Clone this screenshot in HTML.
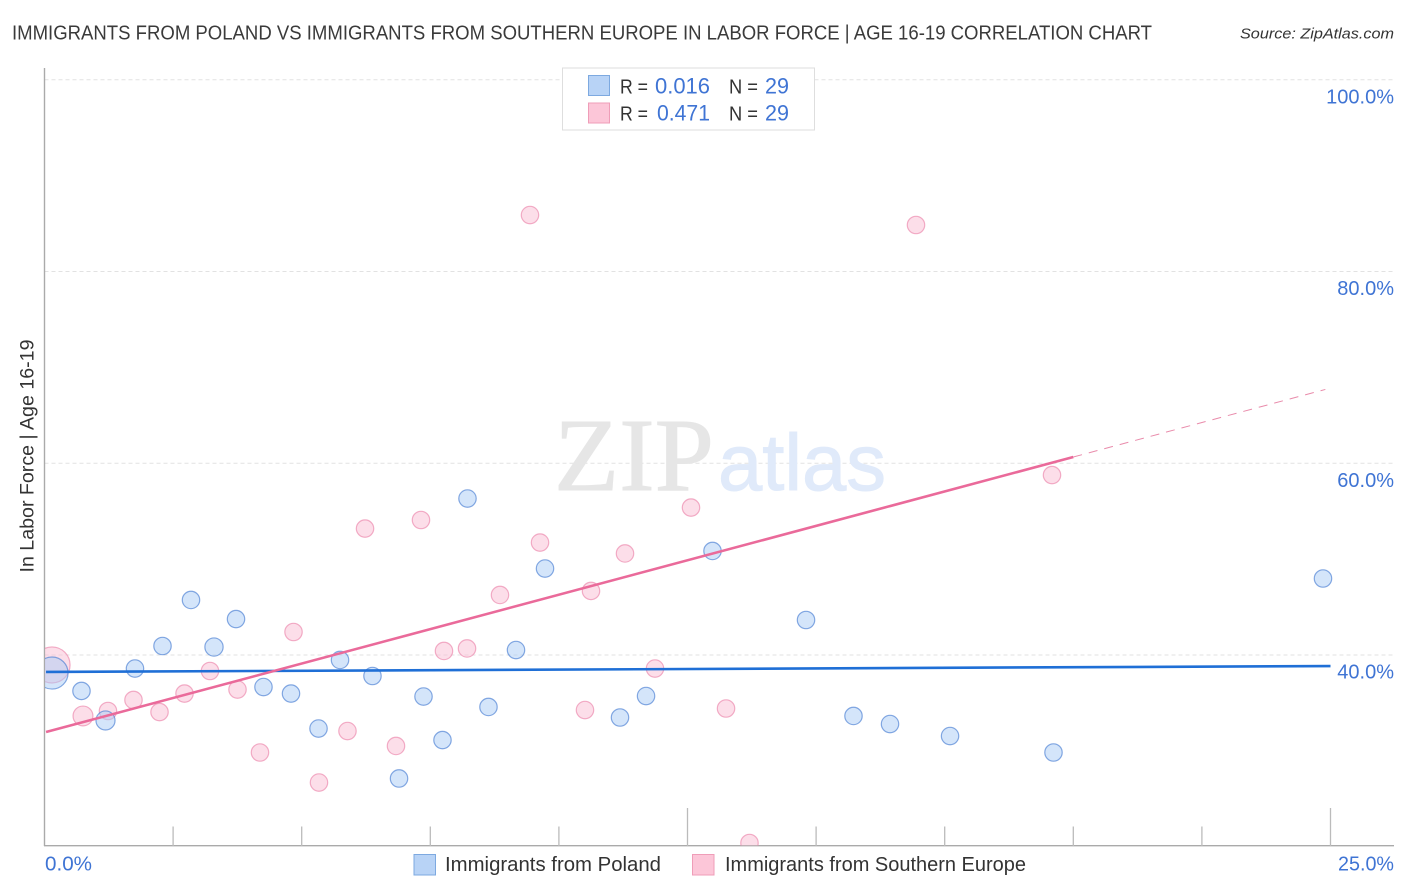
<!DOCTYPE html>
<html lang="en">
<head>
<meta charset="utf-8">
<title>Immigrants from Poland vs Immigrants from Southern Europe in Labor Force | Age 16-19 Correlation Chart</title>
<style>
html,body{margin:0;padding:0;background:#fff;width:1406px;height:892px;overflow:hidden}
svg{display:block;font-family:"Liberation Sans",sans-serif}
</style>
</head>
<body>
<svg id="chart" xmlns="http://www.w3.org/2000/svg" width="1406" height="892" viewBox="0 0 1406 892">
  <defs>
    <clipPath id="plot-clip"><rect x="45" y="68" width="1349" height="777.5"/></clipPath>
  </defs>
  <text x="12" y="39.5" font-size="20" fill="#3a3a3a" textLength="1140" lengthAdjust="spacingAndGlyphs">IMMIGRANTS FROM POLAND VS IMMIGRANTS FROM SOUTHERN EUROPE IN LABOR FORCE | AGE 16-19 CORRELATION CHART</text>
  <text x="1240" y="38.5" font-size="15" font-style="italic" fill="#333" textLength="154" lengthAdjust="spacingAndGlyphs">Source: ZipAtlas.com</text>
  <g id="grid"></g>
  <g>
    <text x="554" y="490" font-family="'Liberation Serif',serif" font-size="104" fill="#e6e6e6" stroke="#e6e6e6" stroke-width="1" textLength="160" lengthAdjust="spacingAndGlyphs">ZIP</text>
    <text x="718" y="490" font-size="80" fill="#e0eafa" stroke="#e0eafa" stroke-width="1" textLength="168" lengthAdjust="spacingAndGlyphs">atlas</text>
  </g>
  <g id="axes"></g>
  <g id="points" clip-path="url(#plot-clip)"></g>
  <g id="trends" clip-path="url(#plot-clip)"></g>
  <g id="tick-labels"></g>
  <text transform="translate(33.5,456) rotate(-90)" text-anchor="middle" font-size="19" fill="#333" textLength="233" lengthAdjust="spacingAndGlyphs">In Labor Force | Age 16-19</text>

  <g>
    <rect x="562.5" y="68" width="252" height="62" fill="#fff" stroke="#dedede" stroke-width="1"/>
    <rect x="588.5" y="75.5" width="21" height="20" fill="#b8d3f6" stroke="#7da9e0" stroke-width="1"/>
    <rect x="588.5" y="103" width="21" height="20" fill="#fcc6d8" stroke="#ef9db8" stroke-width="1"/>
    <text x="620" y="93.5" font-size="20" fill="#333" textLength="28" lengthAdjust="spacingAndGlyphs">R =</text>
    <text x="655" y="93.5" font-size="22" fill="#3f74d4" textLength="55" lengthAdjust="spacingAndGlyphs">0.016</text>
    <text x="729" y="93.5" font-size="20" fill="#333" textLength="29" lengthAdjust="spacingAndGlyphs">N =</text>
    <text x="765" y="93.5" font-size="22" fill="#3f74d4" textLength="24" lengthAdjust="spacingAndGlyphs">29</text>
    <text x="620" y="120.5" font-size="20" fill="#333" textLength="28" lengthAdjust="spacingAndGlyphs">R =</text>
    <text x="657" y="120.5" font-size="22" fill="#3f74d4" textLength="53" lengthAdjust="spacingAndGlyphs">0.471</text>
    <text x="729" y="120.5" font-size="20" fill="#333" textLength="29" lengthAdjust="spacingAndGlyphs">N =</text>
    <text x="765" y="120.5" font-size="22" fill="#3f74d4" textLength="24" lengthAdjust="spacingAndGlyphs">29</text>
  </g>

  <g>
    <rect x="414" y="854.5" width="21.5" height="20.5" fill="#b8d3f6" stroke="#7da9e0" stroke-width="1"/>
    <text x="445" y="871" font-size="20" fill="#333" textLength="216" lengthAdjust="spacingAndGlyphs">Immigrants from Poland</text>
    <rect x="692.5" y="854.5" width="21.5" height="20.5" fill="#fcc6d8" stroke="#ef9db8" stroke-width="1"/>
    <text x="725" y="871" font-size="20" fill="#333" textLength="301" lengthAdjust="spacingAndGlyphs">Immigrants from Southern Europe</text>
  </g>
</svg>
<script>
// Chart data (percent values)
const xTickValues = [0, 2.5, 5, 7.5, 10, 12.5, 15, 17.5, 20, 22.5, 25];
const xMajorTicks = [12.5, 25];
const xEdgeLabels = ['0.0%', '25.0%'];
const yTickValues = [100, 80, 60, 40];
const yTickLabels = ['100.0%', '80.0%', '60.0%', '40.0%'];

const polandX = [0.146, 0.719, 1.186, 1.759, 2.294, 2.848, 3.295, 3.723, 4.257, 4.792, 5.327, 5.745, 6.376, 6.892, 7.368, 7.737, 8.223, 8.631, 9.166, 9.730, 11.188, 11.694, 12.986, 14.804, 15.727, 16.437, 17.604, 19.615, 24.854];
const polandY = [38.12, 36.25, 33.17, 38.59, 40.94, 45.74, 40.83, 43.75, 36.66, 35.98, 32.33, 39.48, 37.81, 27.12, 35.67, 31.13, 56.32, 34.58, 40.52, 49.02, 33.48, 35.72, 50.85, 43.65, 33.64, 32.80, 31.55, 29.83, 47.98];
const polandWeight = [3.4, 1, 1.2, 1, 1, 1, 1.1, 1, 1, 1, 1, 1, 1, 1, 1, 1, 1, 1, 1, 1, 1, 1, 1, 1, 1, 1, 1, 1, 1];

const europeX = [0.146, 0.748, 1.234, 1.730, 2.236, 2.722, 3.217, 3.752, 4.189, 4.841, 5.336, 5.890, 6.231, 6.833, 7.319, 7.766, 8.214, 8.855, 9.438, 9.633, 10.507, 10.624, 11.285, 11.868, 12.568, 13.249, 13.705, 16.942, 19.586];
const europeY = [38.96, 33.64, 34.16, 35.31, 34.05, 35.98, 38.33, 36.40, 29.83, 42.40, 26.70, 32.07, 53.19, 30.51, 54.08, 40.42, 40.68, 46.26, 85.89, 51.73, 34.26, 46.68, 50.59, 38.59, 55.38, 34.42, 20.39, 84.85, 58.77];
const europeWeight = [4.3, 1.3, 1, 1, 1, 1, 1, 1, 1, 1, 1, 1, 1, 1, 1, 1, 1, 1, 1, 1, 1, 1, 1, 1, 1, 1, 1, 1, 1];

const polandTrendX = [0.03, 25];
const polandTrendY = [38.23, 38.85];
const europeTrendX = [0.03, 20];
const europeTrendY = [31.97, 60.65];
const europeForecastX = [20, 24.9];
const europeForecastY = [60.65, 67.7];

// Axis functions
const NS = 'http://www.w3.org/2000/svg';
function xScale(v) { return 44.5 + v * 51.44; }
function yScale(v) { return 655 - (v - 40) * 9.5875; }
function radius(w) { return 8.7 * Math.sqrt(w); }
function make(tag, parent, attrs) {
  const el = document.createElementNS(NS, tag);
  Object.keys(attrs).forEach(function (k) { el.setAttribute(k, attrs[k]); });
  parent.appendChild(el);
  return el;
}

const grid = document.getElementById('grid');
const axes = document.getElementById('axes');
const pointsLayer = document.getElementById('points');
const trends = document.getElementById('trends');
const tickLayer = document.getElementById('tick-labels');

// Gridlines and y tick labels
yTickValues.forEach(function (v, i) {
  const line = make('line', grid, { x1: 44.5, x2: 1394, y1: yScale(v), y2: yScale(v), stroke: '#e2e2e2', 'stroke-width': 1, 'stroke-dasharray': '4 3' });
  
  
  const label = make('text', tickLayer, { x: 1394, y: yScale(v) + 23.5, 'text-anchor': 'end', 'font-size': 20, fill: '#3f74d4' });
  
  
  label.textContent = yTickLabels[i];
});

// Axis lines
const yAxis = make('line', axes, { x1: 44.5, x2: 44.5, y1: 68, y2: 846, stroke: '#aaa', 'stroke-width': 1.4 });


const xAxis = make('line', axes, { x1: 44, x2: 1394, y1: 845.7, y2: 845.7, stroke: '#aaa', 'stroke-width': 1.4 });



// X ticks
xTickValues.slice(1).forEach(function (v) {
  const top = xMajorTicks.indexOf(v) >= 0 ? 808 : 826.5;
  const tick = make('line', axes, { x1: xScale(v), x2: xScale(v), y1: top, y2: 846, stroke: '#bbb', 'stroke-width': 1.3 });
  
  
});

// X edge labels
const xStart = make('text', tickLayer, { x: 45, y: 870.5, 'font-size': 20, fill: '#3f74d4', textLength: 47, lengthAdjust: 'spacingAndGlyphs' });


xStart.textContent = xEdgeLabels[0];
const xEnd = make('text', tickLayer, { x: 1338, y: 870.5, 'font-size': 20, fill: '#3f74d4', textLength: 56, lengthAdjust: 'spacingAndGlyphs' });


xEnd.textContent = xEdgeLabels[1];

// Points
europeX.forEach(function (v, i) {
  const c = make('circle', pointsLayer, { cx: xScale(v), cy: yScale(europeY[i]), r: radius(europeWeight[i]), fill: 'rgba(250,190,212,0.5)', stroke: 'rgba(236,140,175,0.7)', 'stroke-width': 1.2 });
  
  
});
polandX.forEach(function (v, i) {
  const c = make('circle', pointsLayer, { cx: xScale(v), cy: yScale(polandY[i]), r: radius(polandWeight[i]), fill: 'rgba(170,203,245,0.5)', stroke: 'rgba(70,125,210,0.65)', 'stroke-width': 1.2 });
  
  
});

// Trend lines
const forecast = make('line', trends, { x1: xScale(europeForecastX[0]), y1: yScale(europeForecastY[0]), x2: xScale(europeForecastX[1]), y2: yScale(europeForecastY[1]), stroke: '#e98bab', 'stroke-width': 1, 'stroke-dasharray': '9 7' });


const polandTrend = make('line', trends, { x1: xScale(polandTrendX[0]), y1: yScale(polandTrendY[0]), x2: xScale(polandTrendX[1]), y2: yScale(polandTrendY[1]), stroke: '#1f6fd6', 'stroke-width': 2.6 });


const europeTrend = make('line', trends, { x1: xScale(europeTrendX[0]), y1: yScale(europeTrendY[0]), x2: xScale(europeTrendX[1]), y2: yScale(europeTrendY[1]), stroke: '#ea6a9a', 'stroke-width': 2.6 });


</script>
</body>
</html>
